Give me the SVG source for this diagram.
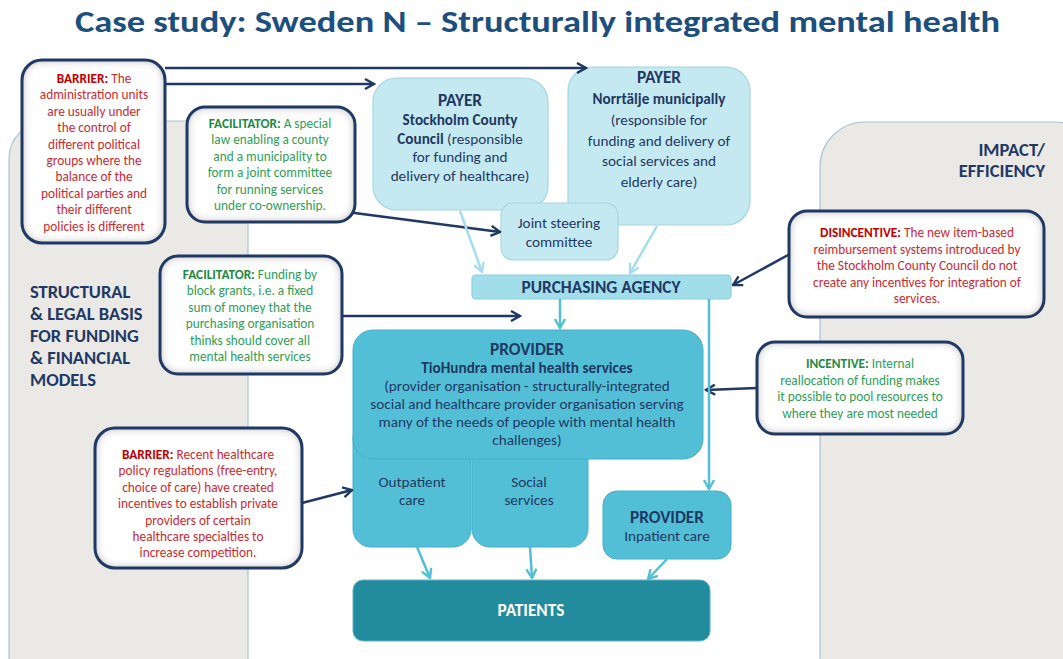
<svg xmlns="http://www.w3.org/2000/svg" width="1063" height="659" viewBox="0 0 1063 659">
<defs>
<style>
text{font-family:Carlito,Calibri,"Liberation Sans",Arial,sans-serif;}
.title{font-size:31px;font-weight:bold;fill:#1D4F7E;}
.panel{fill:#EAE9E6;stroke:#A9C4CF;stroke-width:1.2;}
.side{font-size:18.5px;font-weight:bold;fill:#1F3864;}
.callf{fill:#FFFFFF;stroke:none;filter:url(#inset);}
.calls{fill:none;stroke:#1F3864;stroke-width:3;}
.red{font-size:13.3px;fill:#CC2A2F;text-anchor:middle;}
.red tspan.b{font-weight:bold;fill:#C00000;}
.grn{font-size:13.3px;fill:#2E9E55;text-anchor:middle;}
.grn tspan.b{font-weight:bold;fill:#1E8A44;}
.payer{fill:#C5E9F1;stroke:#A3D6E3;stroke-width:1.2;}
.pa{fill:#A2DDEA;stroke:#8CCFDF;stroke-width:1.2;}
.prov{fill:#53BFD6;stroke:#45AFC6;stroke-width:1;}
.pat{fill:#238B9E;stroke:#5FB3C2;stroke-width:1;}
.nt{font-size:15.2px;fill:#1F3864;text-anchor:middle;}
.nh{font-size:17.3px;font-weight:bold;fill:#1F3864;text-anchor:middle;}
.b{font-weight:bold;}
.navy{fill:none;stroke:#1F3864;stroke-width:2.5;marker-end:url(#an);}
.lt{fill:none;stroke:#A6DDEA;stroke-width:2.5;marker-end:url(#al);}
.md{fill:none;stroke:#52BFD5;stroke-width:2.5;marker-end:url(#am);}
</style>
<filter id="inset" x="-10%" y="-10%" width="120%" height="120%">
<feFlood flood-color="#9A9A9A" result="f"/>
<feComposite in="f" in2="SourceAlpha" operator="out" result="o"/>
<feGaussianBlur in="o" stdDeviation="5" result="bl"/>
<feComposite in="bl" in2="SourceAlpha" operator="in" result="sh"/>
<feMerge><feMergeNode in="SourceGraphic"/><feMergeNode in="sh"/></feMerge>
</filter>
<marker id="an" viewBox="0 0 12 12" refX="10.5" refY="6" markerWidth="12" markerHeight="12" markerUnits="userSpaceOnUse" orient="auto"><path d="M1.5,1 L10.5,6 L1.5,11" fill="none" stroke="#1F3864" stroke-width="2.4"/></marker>
<marker id="al" viewBox="0 0 12 12" refX="10.5" refY="6" markerWidth="12" markerHeight="12" markerUnits="userSpaceOnUse" orient="auto"><path d="M1.5,1 L10.5,6 L1.5,11" fill="none" stroke="#A6DDEA" stroke-width="2.4"/></marker>
<marker id="am" viewBox="0 0 12 12" refX="10.5" refY="6" markerWidth="12" markerHeight="12" markerUnits="userSpaceOnUse" orient="auto"><path d="M1.5,1 L10.5,6 L1.5,11" fill="none" stroke="#52BFD5" stroke-width="2.4"/></marker>
</defs>
<rect width="1063" height="659" fill="#FFFFFF"/>
<text class="title" x="75" y="32" textLength="925" lengthAdjust="spacingAndGlyphs">Case study: Sweden N – Structurally integrated mental health</text>

<g id="panel-left">
<rect class="panel" x="9" y="121" width="239" height="580" rx="38"/>
<text class="side" x="30" y="298">STRUCTURAL</text>
<text class="side" x="30" y="320">&amp; LEGAL BASIS</text>
<text class="side" x="30" y="342">FOR FUNDING</text>
<text class="side" x="30" y="364">&amp; FINANCIAL</text>
<text class="side" x="30" y="386">MODELS</text>
</g>
<g id="panel-right">
<rect class="panel" x="820" y="122" width="280" height="580" rx="45"/>
<text class="side" x="1045" y="156" text-anchor="end">IMPACT/</text>
<text class="side" x="1045" y="177" text-anchor="end">EFFICIENCY</text>
</g>

<g id="payer-stockholm">
<rect class="payer" x="373" y="78" width="175" height="132" rx="24"/>
<text class="nh" x="460" y="106">PAYER</text>
<text class="nt" x="460" y="125"><tspan class="b">Stockholm County</tspan></text>
<text class="nt" x="460" y="144"><tspan class="b">Council</tspan> (responsible</text>
<text class="nt" x="460" y="162">for funding and</text>
<text class="nt" x="460" y="181">delivery of healthcare)</text>
</g>
<g id="payer-norrtalje">
<rect class="payer" x="568" y="67" width="182" height="158" rx="24"/>
<text class="nh" x="659" y="83">PAYER</text>
<text class="nt" x="659" y="104"><tspan class="b">Norrtälje municipally</tspan></text>
<text class="nt" x="659" y="125">(responsible for</text>
<text class="nt" x="659" y="146">funding and delivery of</text>
<text class="nt" x="659" y="166">social services and</text>
<text class="nt" x="659" y="187">elderly care)</text>
</g>
<g id="joint-committee">
<rect class="payer" x="501" y="203" width="117" height="57" rx="12"/>
<text class="nt" x="559" y="228">Joint steering</text>
<text class="nt" x="559" y="247">committee</text>
</g>
<g id="purchasing-agency">
<rect class="pa" x="472" y="275" width="259" height="24" rx="4"/>
<text class="nh" x="601" y="292.5">PURCHASING AGENCY</text>
</g>
<g id="outpatient">
<rect class="prov" x="353" y="420" width="118" height="127" rx="18"/>
<text class="nt" x="412" y="487">Outpatient</text>
<text class="nt" x="412" y="505">care</text>
</g>
<g id="social">
<rect class="prov" x="472" y="420" width="116" height="127" rx="18"/>
<text class="nt" x="529" y="487">Social</text>
<text class="nt" x="529" y="505">services</text>
</g>
<g id="provider-tiohundra">
<rect class="prov" x="353" y="330" width="350" height="129" rx="20"/>
<text class="nh" x="527" y="355">PROVIDER</text>
<text class="nt" x="527" y="373"><tspan class="b">TioHundra  mental health services</tspan></text>
<text class="nt" x="527" y="391">(provider organisation - structurally-integrated</text>
<text class="nt" x="527" y="409">social and healthcare provider organisation serving</text>
<text class="nt" x="527" y="427">many of the needs of people with mental health</text>
<text class="nt" x="527" y="445">challenges)</text>
</g>
<g id="provider-inpatient">
<rect class="prov" x="603" y="491" width="128" height="68" rx="14"/>
<text class="nh" x="667" y="523">PROVIDER</text>
<text class="nt" x="667" y="541">Inpatient care</text>
</g>
<g id="patients">
<rect class="pat" x="353" y="580" width="357" height="61" rx="10"/>
<text class="nh" x="531" y="616" style="fill:#FFFFFF">PATIENTS</text>
</g>

<g id="connectors">
<path class="navy" d="M165,68 L586,68"/>
<path class="navy" d="M165,84 L374,84"/>
<path class="navy" d="M347,212 L500,232"/>
<path class="navy" d="M342,316 L520,316"/>
<path class="navy" d="M790,254 L733,285"/>
<path class="navy" d="M757,388 L706,390"/>
<path class="navy" d="M302,503 L352,490"/>
<path class="lt" d="M460,211 L482,272"/>
<path class="lt" d="M657,226 L630,273"/>
<path class="md" d="M560,299 L560,328"/>
<path class="md" d="M709,299 L709,489"/>
<path class="md" d="M417,547 L430,578"/>
<path class="md" d="M530,547 L532,578"/>
<path class="md" d="M667,559 L648,579"/>
</g>

<g id="barrier-admin">
<rect class="callf" x="22" y="60" width="143" height="183" rx="20"/>
<rect class="calls" x="22" y="60" width="143" height="183" rx="20"/>
<text class="red" x="94" y="83"><tspan class="b">BARRIER:</tspan> The</text>
<text class="red" x="94" y="99.4">administration units</text>
<text class="red" x="94" y="115.8">are usually under</text>
<text class="red" x="94" y="132.2">the control of</text>
<text class="red" x="94" y="148.6">different political</text>
<text class="red" x="94" y="165">groups where the</text>
<text class="red" x="94" y="181.4">balance of the</text>
<text class="red" x="94" y="197.8">political  parties and</text>
<text class="red" x="94" y="214.2">their different</text>
<text class="red" x="94" y="230.6">policies is different</text>
</g>
<g id="facilitator-law">
<rect class="callf" x="187" y="107" width="168" height="115" rx="18"/>
<rect class="calls" x="187" y="107" width="168" height="115" rx="18"/>
<text class="grn" x="270" y="128"><tspan class="b">FACILITATOR:</tspan> A special</text>
<text class="grn" x="270" y="144.4">law enabling a county</text>
<text class="grn" x="270" y="160.8">and a municipality to</text>
<text class="grn" x="270" y="177.2">form a joint committee</text>
<text class="grn" x="270" y="193.6">for running services</text>
<text class="grn" x="270" y="210">under co-ownership.</text>
</g>
<g id="facilitator-grants">
<rect class="callf" x="160" y="256" width="182" height="118" rx="18"/>
<rect class="calls" x="160" y="256" width="182" height="118" rx="18"/>
<text class="grn" x="250" y="279"><tspan class="b">FACILITATOR:</tspan> Funding by</text>
<text class="grn" x="250" y="295.4">block grants, i.e. a fixed</text>
<text class="grn" x="250" y="311.8">sum of money that the</text>
<text class="grn" x="250" y="328.2">purchasing organisation</text>
<text class="grn" x="250" y="344.6">thinks should cover all</text>
<text class="grn" x="250" y="361">mental health services</text>
</g>
<g id="disincentive">
<rect class="callf" x="789" y="211" width="255" height="106" rx="18"/>
<rect class="calls" x="789" y="211" width="255" height="106" rx="18"/>
<text class="red" x="917" y="237"><tspan class="b">DISINCENTIVE:</tspan> The new item-based</text>
<text class="red" x="917" y="253.6">reimbursement systems introduced by</text>
<text class="red" x="917" y="270.2">the Stockholm County Council do not</text>
<text class="red" x="917" y="286.8">create any incentives for integration of</text>
<text class="red" x="917" y="303.4">services.</text>
</g>
<g id="incentive">
<rect class="callf" x="757" y="342" width="206" height="92" rx="18"/>
<rect class="calls" x="757" y="342" width="206" height="92" rx="18"/>
<text class="grn" x="860" y="368"><tspan class="b">INCENTIVE:</tspan> Internal</text>
<text class="grn" x="860" y="384.5">reallocation of funding makes</text>
<text class="grn" x="860" y="401">it possible to pool resources to</text>
<text class="grn" x="860" y="417.5">where they are most needed</text>
</g>
<g id="barrier-regulations">
<rect class="callf" x="95" y="428" width="207" height="140" rx="20"/>
<rect class="calls" x="95" y="428" width="207" height="140" rx="20"/>
<text class="red" x="198" y="459"><tspan class="b">BARRIER:</tspan> Recent healthcare</text>
<text class="red" x="198" y="475.4">policy regulations (free-entry,</text>
<text class="red" x="198" y="491.8">choice of care) have created</text>
<text class="red" x="198" y="508.2">incentives to establish private</text>
<text class="red" x="198" y="524.6">providers of certain</text>
<text class="red" x="198" y="541">healthcare specialties  to</text>
<text class="red" x="198" y="557.4">increase competition.</text>
</g>
</svg>
